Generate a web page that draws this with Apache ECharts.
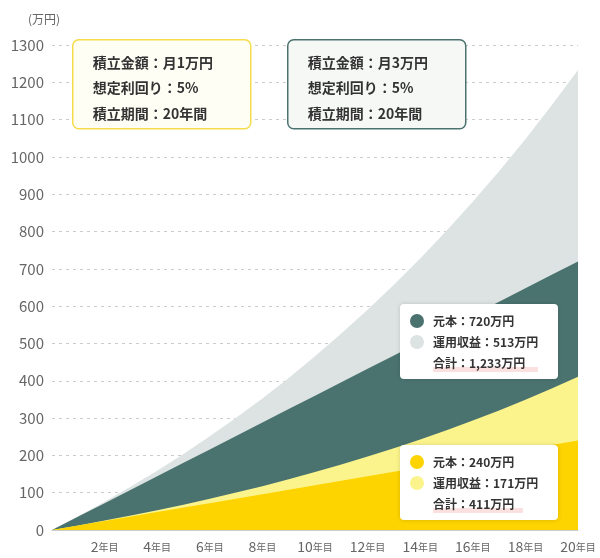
<!DOCTYPE html>
<html><head><meta charset="utf-8">
<script src="https://cdn.jsdelivr.net/npm/echarts@6/dist/echarts.min.js"></script>
<style>body{margin:0}#chart{width:600px;height:558px}</style>
</head><body><div id="chart"></div>
<script>
var years = [0,1,2,3,4,5,6,7,8,9,10,11,12,13,14,15,16,17,18,19,20];
var total3 = [0,37,75.6,116.4,159,204,251,300.6,352.8,407.7,465.9,526.5,590.4,657.3,727.5,801.9,879.6,961.5,1047.6,1138.2,1233];
var principal3 = [0,36,72,108,144,180,216,252,288,324,360,396,432,468,504,540,576,612,648,684,720];
var total1 = [0,12.3,25.2,38.8,53,68,83.7,100.2,117.6,135.9,155.3,175.5,196.8,219.1,242.5,267.3,293.2,320.5,349.2,379.4,411];
var principal1 = [0,12,24,36,48,60,72,84,96,108,120,132,144,156,168,180,192,204,216,228,240];

var font = "'Noto Sans CJK JP'";
function pairs(arr) { return years.map(function (y, i) { return [y, arr[i]]; }); }
function area(name, arr, color) {
  return { name: name, type: "line", data: pairs(arr), symbol: "none", smooth: false,
    lineStyle: { width: 0 }, areaStyle: { color: color, opacity: 1 } };
}
function infoBox(x, y, border, fill, lines) {
  return { type: "group", left: x, top: y, z: 100, children: [
    { type: "rect", z: 100, shape: { x: 0, y: 0, width: 178, height: 89, r: 6 },
      style: { fill: fill, stroke: border, lineWidth: 1.5 } },
    { type: "text", z: 101, x: 20, y: 10, style: { text: lines.join("\n"), font: "bold 14px " + font, fill: "#333", lineHeight: 25.5 } }
  ]};
}
function valueBox(y, c1, c2, lines) {
  return { type: "group", left: 400, top: y, z: 100, children: [
    { type: "rect", z: 100, shape: { x: 0, y: 0, width: 158, height: 75, r: 4 },
      style: { fill: "#fff", shadowBlur: 4, shadowColor: "rgba(0,0,0,0.15)" } },
    { type: "circle", z: 101, shape: { cx: 17, cy: 17, r: 7 }, style: { fill: c1 } },
    { type: "circle", z: 101, shape: { cx: 17, cy: 38, r: 7 }, style: { fill: c2 } },
    { type: "rect", z: 101, shape: { x: 33, y: 63, width: lines[3], height: 5 }, style: { fill: "#fbe0e0" } },
    { type: "text", z: 102, x: 33, y: 7, style: { text: lines.slice(0, 3).join("\n"), font: "bold 12px " + font, fill: "#333", lineHeight: 21 } }
  ]};
}

var chart = echarts.init(document.getElementById("chart"));
chart.setOption({
  animation: false,
  grid: { left: 52, right: 22, top: 45, bottom: 28 },
  xAxis: { type: "value", min: 0, max: 20, interval: 2,
    axisLine: { lineStyle: { color: "#ccc" } }, axisTick: { show: false }, splitLine: { show: false },
    axisLabel: { margin: 10, formatter: function (v) { return v === 0 ? "" : "{n|" + v + "}{s|年目}"; },
      rich: { n: { fontSize: 14, color: "#666", fontFamily: font }, s: { fontSize: 10, color: "#666", fontFamily: font } } } },
  yAxis: { type: "value", min: 0, max: 1300, interval: 100, name: "(万円)",
    nameLocation: "end", nameGap: 20, nameTextStyle: { color: "#666", fontSize: 12, fontFamily: font, align: "right", padding: [0, -8, 0, 0] },
    axisLine: { show: false }, axisTick: { show: false },
    axisLabel: { color: "#666", fontSize: 15, fontFamily: font, margin: 8, formatter: function (v) { return String(v); } },
    splitLine: { lineStyle: { color: "#ccc", type: [3, 4] } } },
  series: [
    area("3万合計", total3, "#dce3e2"),
    area("3万元本", principal3, "#4a7370"),
    area("1万合計", total1, "#fbf48c"),
    area("1万元本", principal1, "#fdd300")
  ],
  graphic: [
    infoBox(72, 39, "#f5dc4a", "#fffef5", ["積立金額：月1万円", "想定利回り：5%", "積立期間：20年間"]),
    infoBox(287, 39, "#4a7370", "#f6f8f6", ["積立金額：月3万円", "想定利回り：5%", "積立期間：20年間"]),
    valueBox(304, "#4a7370", "#dce3e2", ["元本：720万円", "運用収益：513万円", "合計：1,233万円", 105]),
    valueBox(445, "#fdd300", "#fbf48c", ["元本：240万円", "運用収益：171万円", "合計：411万円", 90])
  ]
});
</script></body></html>
